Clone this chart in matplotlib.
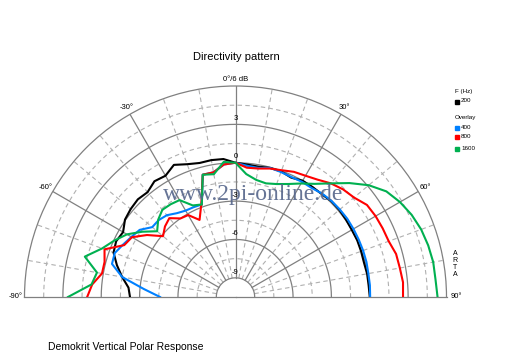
import numpy as np
import matplotlib
matplotlib.use("Agg")
import matplotlib.pyplot as plt

# polar data, angle in degrees, level in dB (normalised to 0 dB on axis)
angles = list(range(-90, 95, 5))

f200 = [-2.25, -2.1, -1.5, -0.9, -0.35, -0.2, -0.35, 0.05, 0.2, 0.3,
        0.2, 0.55, 0.45, 0.9, 0.55, 0.35, 0.37, 0.33, 0.0, -0.1,
        -0.15, -0.05, -0.05, -0.2, 0.0, 0.0, 0.0, 0.1, 0.1, 0.05,
        0.0, 0.0, -0.05, -0.1, -0.05, -0.05, 0.0]
f400 = [-4.6, -3.3, -1.5, -0.5, -0.45, -0.8, -1.1, -1.35, -2.0, -2.0,
        -2.15, -2.5, -2.7, -2.75, -2.8, -0.6, -0.6, -0.1, 0.0, -0.2,
        -0.25, -0.05, -0.1, -0.15, -0.1, -0.1, 0.05, 0.12, 0.15, 0.17,
        0.15, 0.13, 0.12, 0.1, 0.05, 0.05, 0.03]
f800 = [1.1, 0.75, 0.1, 0.1, 0.4, -0.9, -1.15, -2.05, -3.1, -2.7,
        -2.45, -3.0, -3.1, -3.85, -2.7, -0.6, -0.6, -0.1, 0.0, -0.35,
        -0.3, -0.1, 0.05, 0.3, 0.45, 0.7, 1.1, 1.4, 1.6, 2.05,
        2.15, 2.2, 2.25, 2.5, 2.55, 2.65, 2.6]
f1600 = [2.6, 0.8, 0.5, 1.7, 0.6, -0.05, -0.7, -1.6, -2.5, -1.95,
         -1.6, -1.65, -1.75, -2.6, -2.8, -0.6, -0.75, 0.1, 0.0, -0.85,
         -1.2, -1.3, -1.1, -0.75, -0.25, 0.3, 1.1, 2.1, 3.1, 3.9,
         4.35, 4.7, 4.95, 5.1, 5.2, 5.2, 5.3]

series = [("200", f200, "#000000"), ("400", f400, "#0080ff"),
          ("800", f800, "#ff0000"), ("1600", f1600, "#00b050")]

r_min, r_max = -10.5, 6
major_r = [-9, -6, -3, 0, 3]
minor_r = [-7.5, -4.5, -1.5, 1.5, 4.5]
major_t = [-60, -30, 0, 30, 60]
minor_t = [-80, -70, -50, -40, -20, -10, 10, 20, 40, 50, 70, 80]

W, H = 512, 358
def fx(x): return x / W
def fy(y): return 1 - y / H

fig = plt.figure(figsize=(5.12, 3.58), dpi=100)
fig.patch.set_facecolor("white")
# half disc is centred in a square box, so the box is 2R x 2R
ax = fig.add_axes([fx(24.5), fy(402.5), 422 / W, 422 / H], projection="polar")
ax.set_theta_zero_location("N")
ax.set_theta_direction(-1)
ax.set_thetamin(-90)
ax.set_thetamax(90)
ax.set_rlim(r_min, r_max)
ax.grid(False)
ax.set_xticks([])
ax.set_yticks([])
for s in ["polar", "start", "end"]:
    ax.spines[s].set_color("#808080")
    ax.spines[s].set_linewidth(0.9)
ax.spines["inner"].set_visible(False)

arc = np.deg2rad(np.linspace(-90, 90, 361))
for r in minor_r:
    ax.plot(arc, np.full_like(arc, r), color="#b0b0b0", lw=0.8, ls=(0, (4, 3)), zorder=1)
for t in minor_t:
    ax.plot([np.deg2rad(t)] * 2, [-9, r_max], color="#b0b0b0", lw=0.8, ls=(0, (4, 3)), zorder=1)
for r in major_r:
    ax.plot(arc, np.full_like(arc, r), color="#808080", lw=0.9, zorder=2)
for t in major_t:
    ax.plot([np.deg2rad(t)] * 2, [-9, r_max], color="#808080", lw=0.9, zorder=2)

th = np.deg2rad(angles)
for name, vals, col in series:
    ax.plot(th, vals, color=col, lw=1.5, zorder=5)

# labels
lab_font = dict(family="Liberation Sans", fontsize=5.5, color="black")
ax.text(0, 6.5, "0°/6 dB", ha="center", va="center", clip_on=False, **lab_font)
for t in [-60, -30, 30, 60]:
    ax.text(np.deg2rad(t), 6.6, f"{t}°", ha="center", va="center", clip_on=False, **lab_font)
fig.text(fx(23), fy(297), "-90°", ha="right", va="center", **lab_font)
fig.text(fx(451), fy(297), "90°", ha="left", va="center", **lab_font)
for r in major_r:
    ax.text(0, r + 0.45, str(r), ha="center", va="center", zorder=6, **lab_font)

fig.text(fx(236), fy(57), "Directivity pattern", ha="center", va="center",
         family="Liberation Sans", fontsize=8)
fig.text(fx(48), fy(347), "Demokrit Vertical Polar Response", ha="left", va="center",
         family="Liberation Sans", fontsize=7.5)
fig.text(fx(253), fy(195), "www.2pi-online.de", ha="center", va="center",
         family="Liberation Serif", fontsize=17, color="#55658a", alpha=0.9, zorder=10)

leg_font = dict(family="Liberation Sans", fontsize=4.5, va="center")
fig.text(fx(455), fy(92), "F (Hz)", **leg_font)
fig.text(fx(455), fy(117), "Overlay", **leg_font)
leg_y = [102, 128, 137, 149]
for (name, vals, col), y in zip(series, leg_y):
    fig.patches.append(plt.Rectangle((fx(455), fy(y) - 2 / H), 4 / W, 4 / H,
                                     transform=fig.transFigure, color=col, figure=fig))
    fig.text(fx(461), fy(y - 1), name, **leg_font)

fig.text(fx(455), fy(264), "A\nR\nT\nA", ha="center", va="center",
         family="Liberation Sans", fontsize=5, linespacing=1.0)

fig.savefig("out.png", dpi=100)
